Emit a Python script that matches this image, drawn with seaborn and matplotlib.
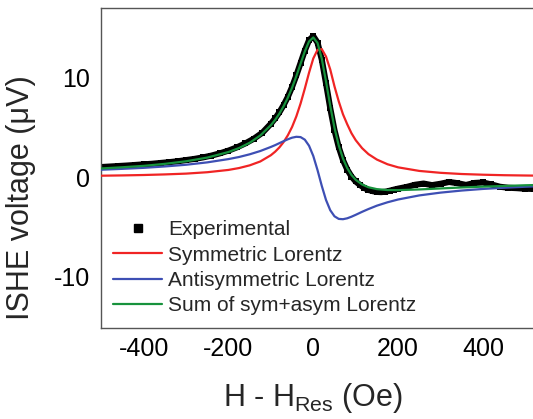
import matplotlib
matplotlib.use("Agg")
import matplotlib.pyplot as plt
from matplotlib.lines import Line2D
from matplotlib.ticker import MultipleLocator, FixedLocator
import seaborn as sns

# ---- data ----
field_fit = [-500, -450, -400, -350, -300, -250, -200, -175, -150, -125, -100,
             -90, -80, -70, -60, -50, -40, -30, -20, -10,
             0, 10, 20, 30, 40, 50, 60, 70, 80, 90, 100,
             115, 130, 150, 175, 200, 250, 300, 350, 400, 450, 500, 540]
sym_lorentz = [0.13, 0.16, 0.20, 0.26, 0.34, 0.48, 0.71, 0.90, 1.17, 1.56, 2.19,
               2.54, 2.97, 3.51, 4.19, 5.03, 6.09, 7.38, 8.88, 10.48,
               11.91, 12.78, 12.85, 12.1, 10.8, 9.1, 7.6, 6.3, 5.3, 4.4, 3.7,
               2.9, 2.3, 1.75, 1.28, 0.97, 0.61, 0.42, 0.30, 0.23, 0.18, 0.15, 0.13]
asym_lorentz = [0.73, 0.82, 0.92, 1.06, 1.23, 1.47, 1.80, 2.01, 2.28, 2.61, 3.02,
                3.20, 3.40, 3.60, 3.79, 3.95, 4.04, 4.01, 3.75, 3.14,
                2.11, 0.69, -0.89, -2.31, -3.34, -3.95, -4.21, -4.24, -4.15, -3.99, -3.80,
                -3.50, -3.22, -2.88, -2.54, -2.26, -1.85, -1.57, -1.36, -1.20, -1.08, -0.98, -0.91]
sum_lorentz = [0.86, 0.98, 1.12, 1.32, 1.58, 1.95, 2.51, 2.91, 3.44, 4.17, 5.21,
               5.74, 6.37, 7.11, 7.97, 8.98, 10.13, 11.38, 12.62, 13.62,
               14.02, 13.47, 11.89, 9.60, 7.14, 4.93, 3.17, 1.85, 0.89, 0.20, -0.28,
               -0.75, -1.03, -1.22, -1.31, -1.32, -1.25, -1.15, -1.05, -0.97, -0.90, -0.83, -0.79]

field_exp = [-500, -480, -460, -440, -420, -400, -380, -360, -340, -320, -300,
             -280, -260, -240, -220, -200, -180, -160, -140, -120, -100,
             -90, -80, -70, -60, -50, -40, -30, -20, -10, 0, 10, 20, 30, 40, 50,
             60, 70, 80, 90, 100, 110, 120, 130, 140, 150, 160, 170, 180, 190, 200,
             220, 240, 260, 280, 300, 320, 340, 360, 380, 400, 420, 440, 460, 480,
             500, 520, 540]
ishe_exp = [1.00, 1.05, 1.10, 1.15, 1.21, 1.27, 1.33, 1.41, 1.49, 1.58, 1.70,
            1.82, 1.97, 2.15, 2.38, 2.65, 2.98, 3.38, 3.85, 4.45, 5.35,
            5.88, 6.50, 7.22, 8.05, 9.05, 10.2, 11.45, 12.7, 13.75, 14.15, 13.5, 11.8, 9.4, 6.9, 4.7,
            3.0, 1.7, 0.75, 0.05, -0.45, -0.8, -1.1, -1.3, -1.42, -1.5, -1.52, -1.48, -1.38, -1.27, -1.17,
            -1.0, -0.78, -0.66, -0.82, -0.68, -0.5, -0.62, -0.8, -0.6, -0.55, -0.75, -0.98, -1.08, -1.12,
            -1.18, -1.2, -1.2]

labels = ["Experimental", "Symmetric Lorentz", "Antisymmetric Lorentz",
          "Sum of sym+asym Lorentz"]
x_ticks = [-400, -200, 0, 200, 400]
y_ticks = [-10, 0, 10]

# ---- style ----
sns.set_theme(style="white")
plt.rcParams["font.family"] = ["Liberation Sans", "DejaVu Sans"]
plt.rcParams["mathtext.fontset"] = "custom"
plt.rcParams["mathtext.rm"] = "Liberation Sans"
plt.rcParams["mathtext.it"] = "Liberation Sans:italic"
plt.rcParams["axes.unicode_minus"] = False

RED = "#f02424"
BLUE = "#3e4fb4"
GREEN = "#17923c"
SPINE = "#555555"

fig = plt.figure(figsize=(5.33, 4.19), dpi=100)
ax = fig.add_axes([0.1899, 0.2165, 0.8276, 0.7637])

sns.lineplot(x=field_exp, y=ishe_exp, ax=ax, color="black", lw=4.4,
             marker="s", markersize=5, markeredgewidth=0, sort=False, zorder=2)
sns.lineplot(x=field_fit, y=sym_lorentz, ax=ax, color=RED, lw=1.6, sort=False, zorder=3)
sns.lineplot(x=field_fit, y=asym_lorentz, ax=ax, color=BLUE, lw=1.6, sort=False, zorder=3)
sns.lineplot(x=field_fit, y=sum_lorentz, ax=ax, color=GREEN, lw=1.6, sort=False, zorder=4)

ax.set_xlim(-500, 540)
ax.set_ylim(-15.2, 16.95)
ax.xaxis.set_major_locator(FixedLocator(x_ticks))
ax.xaxis.set_minor_locator(FixedLocator([-300, -100, 100, 300]))
ax.yaxis.set_major_locator(FixedLocator(y_ticks))
ax.yaxis.set_minor_locator(MultipleLocator(5))
ax.tick_params(axis="both", which="major", direction="in", length=4.5, width=0.9,
               colors=SPINE, labelcolor="black", labelsize=18)
ax.tick_params(axis="x", which="major", pad=6)
ax.tick_params(axis="y", which="major", pad=8)
ax.tick_params(axis="both", which="minor", direction="in", length=2.5, width=0.9,
               colors=SPINE)
for s in ax.spines.values():
    s.set_color(SPINE)
    s.set_linewidth(1.0)

ax.set_xlabel(r"H - H$_{\mathrm{Res}}$ (Oe)", fontsize=22)
ax.set_ylabel("ISHE voltage (μV)", fontsize=22)
ax.xaxis.set_label_coords(0.48, -0.165)
ax.yaxis.set_label_coords(-0.147, 0.407)

handles = [
    Line2D([], [], color="black", marker="s", ls="none", markersize=5.5),
    Line2D([], [], color=RED, lw=1.6),
    Line2D([], [], color=BLUE, lw=1.6),
    Line2D([], [], color=GREEN, lw=1.6),
]
ax.legend(handles, labels, loc="upper left", bbox_to_anchor=(0.027, 0.337),
          frameon=False, fontsize=15, handlelength=2.35, handletextpad=0.3,
          labelspacing=0.3, borderpad=0, borderaxespad=0, numpoints=1)

fig.savefig("out.png", dpi=100)
